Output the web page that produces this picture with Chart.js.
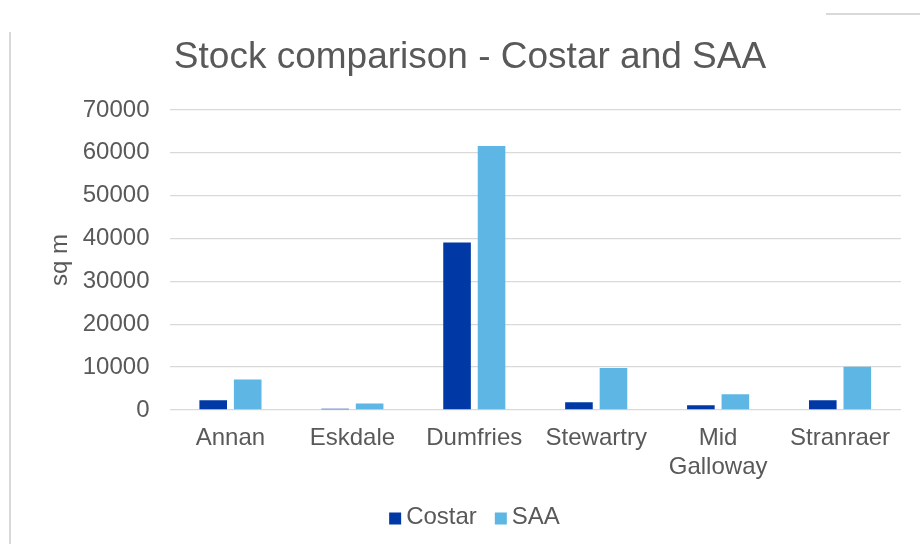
<!DOCTYPE html>
<html>
<head>
<meta charset="utf-8">
<title>Stock comparison - Costar and SAA</title>
<script src="https://cdn.jsdelivr.net/npm/chart.js@4.4.1/dist/chart.umd.min.js"></script>
<style>
	html, body { margin: 0; padding: 0; background: #fff; overflow: hidden; }
	#wrap { position: relative; width: 920px; height: 544px; }
	#chart { position: absolute; left: 0; top: 0; }
	.frame-left { position: absolute; left: 9px; top: 32px; width: 2px; height: 512px; background: #d9d9d9; }
	.frame-top { position: absolute; left: 826px; top: 13px; width: 94px; height: 2px; background: #d9d9d9; }
</style>
</head>
<body>
<div id="wrap">
	<canvas id="chart" width="920" height="544"></canvas>
	<div class="frame-left"></div>
	<div class="frame-top"></div>
</div>
<script>
	// values (sq m)
	const categories = ['Annan', 'Eskdale', 'Dumfries', 'Stewartry', ['Mid', 'Galloway'], 'Stranraer'];
	const costarValues = [2300, 300, 39100, 1800, 1100, 2300];
	const saaValues = [7100, 1500, 61600, 9800, 3700, 10100];
	const yTicks = [0, 10000, 20000, 30000, 40000, 50000, 60000, 70000];

	const textColor = '#595959';
	const gridColor = '#d9d9d9';
	const fontFamily = '"Liberation Sans", Arial, sans-serif';

	Chart.defaults.font.family = fontFamily;
	Chart.defaults.color = textColor;

	// office-style legend: small square, tight gap before the text
	const bottomLegend = {
		id: 'bottomLegend',
		afterDraw(chart) {
			const ctx = chart.ctx;
			const box = 12, gap = 5, spacing = 18;
			const centerX = 474.5, centerY = 518.5;
			ctx.save();
			ctx.font = '24px ' + fontFamily;
			ctx.textBaseline = 'middle';
			ctx.textAlign = 'left';
			const items = chart.data.datasets.map(ds => ({
				text: ds.label,
				color: ds.backgroundColor,
				width: box + gap + ctx.measureText(ds.label).width,
			}));
			const total = items.reduce((s, it) => s + it.width, 0) + spacing * (items.length - 1);
			let x = centerX - total / 2;
			items.forEach(it => {
				ctx.fillStyle = it.color;
				ctx.fillRect(x, centerY - box / 2, box, box);
				ctx.fillStyle = textColor;
				ctx.fillText(it.text, x + box + gap, centerY - 1);
				x += it.width + spacing;
			});
			ctx.restore();
		},
	};

	new Chart(document.getElementById('chart'), {
		type: 'bar',
		data: {
			labels: categories,
			datasets: [
				{
					label: 'Costar',
					data: costarValues,
					backgroundColor: '#0039a6',
					categoryPercentage: 0.566,
					barPercentage: 0.8,
				},
				{
					label: 'SAA',
					data: saaValues,
					backgroundColor: '#5eb6e4',
					categoryPercentage: 0.566,
					barPercentage: 0.8,
				},
			],
		},
		plugins: [bottomLegend],
		options: {
			responsive: false,
			animation: false,
			layout: {
				padding: { left: 39, right: 19, top: 0, bottom: 55.5 },
			},
			plugins: {
				title: {
					display: true,
					text: 'Stock comparison - Costar and SAA',
					color: textColor,
					font: { size: 37, weight: 'normal' },
					padding: { top: 36, bottom: 29.6 },
				},
				legend: { display: false },
				tooltip: { enabled: false },
			},
			scales: {
				x: {
					grid: { display: false, drawTicks: false },
					border: { display: false },
					ticks: {
						color: textColor,
						font: { size: 24 },
						padding: 14.3,
						maxRotation: 0,
						autoSkip: false,
					},
					afterFit(scale) {
						scale.height = 78.5;
					},
				},
				y: {
					min: 0,
					max: 70000,
					afterBuildTicks(scale) {
						scale.ticks = yTicks.map(v => ({ value: v }));
					},
					grid: { color: gridColor, lineWidth: 1.3, drawTicks: false },
					border: { display: false },
					ticks: {
						color: textColor,
						font: { size: 24 },
						padding: 20,
						callback: v => String(v),
					},
					title: {
						display: true,
						text: 'sq m',
						color: textColor,
						font: { size: 24 },
						padding: { top: 7, bottom: 7 },
					},
					afterFit(scale) {
						scale.width = 130.5;
					},
				},
			},
		},
	});
</script>
</body>
</html>
